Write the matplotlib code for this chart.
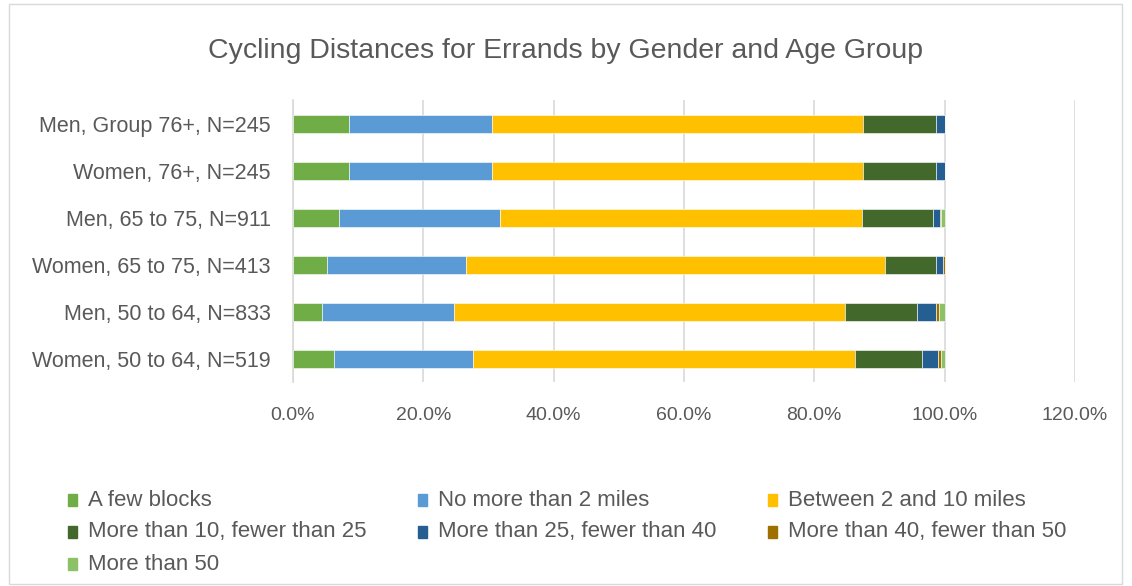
import matplotlib.pyplot as plt
from matplotlib.patches import Rectangle
from matplotlib.ticker import PercentFormatter

plt.rcParams['font.family'] = ['Liberation Sans', 'DejaVu Sans']

groups = ['Men, Group 76+, N=245', 'Women, 76+, N=245', 'Men, 65 to 75, N=911',
          'Women, 65 to 75, N=413', 'Men, 50 to 64, N=833', 'Women, 50 to 64, N=519']
categories = ['A few blocks', 'No more than 2 miles', 'Between 2 and 10 miles',
              'More than 10, fewer than 25', 'More than 25, fewer than 40',
              'More than 40, fewer than 50', 'More than 50']
colors = ['#70ad47', '#5b9bd5', '#ffc000', '#43682b', '#255e91', '#9e7000', '#8cc168']

# shares per group (percent), in category order
few_blocks = [8.6, 8.6, 7.1, 5.3, 4.5, 6.3]
under_2 = [22.0, 22.0, 24.7, 21.3, 20.2, 21.3]
from_2_to_10 = [56.8, 56.8, 55.5, 64.2, 60.0, 58.7]
from_10_to_25 = [11.3, 11.3, 10.9, 7.9, 11.1, 10.2]
from_25_to_40 = [1.3, 1.3, 1.1, 1.0, 2.9, 2.5]
from_40_to_50 = [0.0, 0.0, 0.2, 0.3, 0.5, 0.4]
over_50 = [0.0, 0.0, 0.5, 0.0, 0.8, 0.6]
series = [few_blocks, under_2, from_2_to_10, from_10_to_25, from_25_to_40,
          from_40_to_50, over_50]


def main():
    fig = plt.figure(figsize=(11.32, 5.86), dpi=100)
    ax = fig.add_axes([0.2588, 0.3473, 0.6908, 0.4812])
    ypos = list(range(len(groups)))[::-1]

    left = [0.0] * len(groups)
    for vals, col in zip(series, colors):
        frac = [v / 100 for v in vals]
        ax.barh(ypos, frac, left=left, height=0.4, color=col,
                edgecolor='white', linewidth=0.4, zorder=3)
        left = [a + b for a, b in zip(left, frac)]

    ax.set_xlim(0, 1.2)
    ax.set_ylim(-0.5, len(groups) - 0.5)
    ax.set_xticks([0, 0.2, 0.4, 0.6, 0.8, 1.0, 1.2])
    ax.xaxis.set_major_formatter(PercentFormatter(1.0, decimals=1))
    ax.set_yticks(ypos)
    ax.set_yticklabels(groups)
    ax.tick_params(length=0, colors='#595959')
    ax.tick_params(axis='x', pad=18, labelsize=14)
    ax.tick_params(axis='y', pad=16, labelsize=15.5)
    ax.grid(axis='x', color='#d9d9d9', linewidth=1.2, zorder=0)
    for s in ['top', 'right', 'bottom']:
        ax.spines[s].set_visible(False)
    ax.spines['left'].set_color('#d9d9d9')
    ax.spines['left'].set_linewidth(1.2)

    fig.text(0.5, 0.913, 'Cycling Distances for Errands by Gender and Age Group',
             ha='center', va='center', fontsize=20.5, color='#595959')

    # legend laid out like the spreadsheet: three per row
    col_x = [68, 418, 768]
    row_y = [500, 532, 564]
    for i, (lab, col) in enumerate(zip(categories, colors)):
        x = col_x[i % 3] / 1132
        y = 1 - row_y[i // 3] / 586
        fig.patches.append(Rectangle((x, y - 6 / 586), 9 / 1132, 12 / 586,
                                     transform=fig.transFigure, color=col))
        fig.text(x + 20 / 1132, y, lab, ha='left', va='center',
                 fontsize=16, color='#595959')

    fig.patches.append(Rectangle((9 / 1132, 2 / 586), 1113 / 1132, 580 / 586,
                                 transform=fig.transFigure, fill=False,
                                 edgecolor='#d9d9d9', linewidth=1))
    fig.savefig('out.png', dpi=100)


if __name__ == '__main__':
    main()
